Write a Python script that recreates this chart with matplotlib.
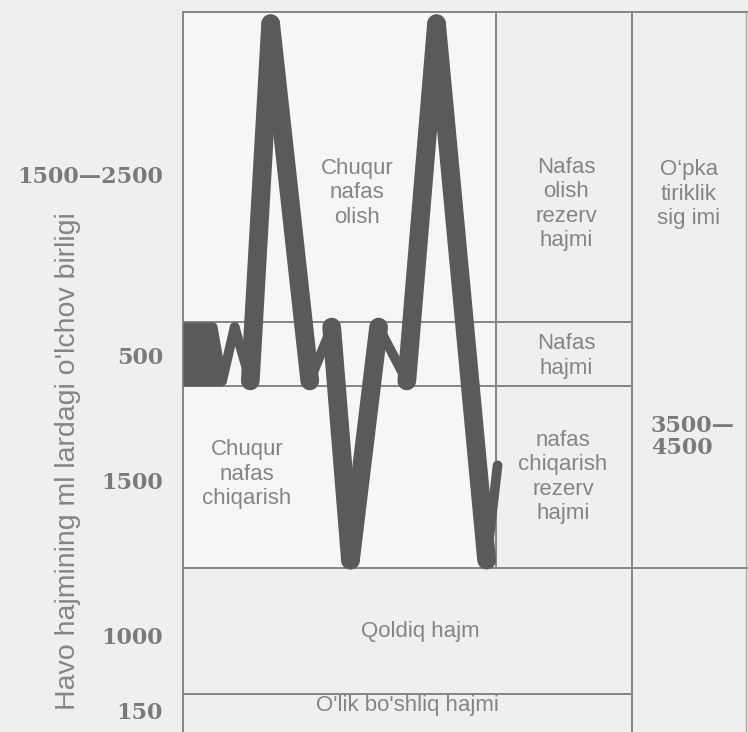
import matplotlib
matplotlib.use("Agg")
import matplotlib.pyplot as plt

# ---------------- data ----------------
# spirogram trace: time (s) and volume relative to resting end-expiratory level (ml)
block_t = [0.0, 1.9, 2.5]
block_top = [500, 500, 0]
trace_t = [1.9, 2.5, 3.3, 4.3, 5.6, 8.1, 9.5, 10.7, 12.5, 14.3, 16.2, 19.4, 20.1]
trace_v = [460, 40, 460, 40, 2830, 40, 460, -1360, 460, 40, 2830, -1360, -620]

# compartment boundaries (ml, relative to end-expiratory level)
lvl_top = 2920      # top of inspiratory reserve
lvl_vt = 500        # tidal top
lvl_frc = 0         # tidal bottom
lvl_rv = -1420      # top of residual volume
lvl_dead = -2410    # top of dead-space strip
# column boundaries (s)
col_trace_end = 20.0
col_labels_end = 28.7
col_right = 36.0

left_values = ["1500—2500", "500", "1500", "1000", "150"]
right_value = "3500—\n4500"
ylabel = "Havo hajmining ml lardagi o'lchov birligi"
labels = {
    "irv_left": "Chuqur\nnafas\nolish",
    "irv": "Nafas\nolish\nrezerv\nhajmi",
    "vc": "O‘pka\ntiriklik\nsig imi",
    "vt": "Nafas\nhajmi",
    "erv_left": "Chuqur\nnafas\nchiqarish",
    "erv": "nafas\nchiqarish\nrezerv\nhajmi",
    "rv": "Qoldiq hajm",
    "dead": "O'lik bo'shliq hajmi",
}

# ---------------- layout ----------------
W, H = 748, 732
X0, PX_PER_S = 183, 15.65
Y0, ML_PER_PX = 386, 500 / 64

fig = plt.figure(figsize=(W / 100, H / 100), dpi=100)
bg = "#efefef"
fig.patch.set_facecolor(bg)
ax = fig.add_axes([0, 0, 1, 1])
ax.set_facecolor(bg)
ax.set_xlim(-X0 / PX_PER_S, (W - X0) / PX_PER_S)
ax.set_ylim((Y0 - H) * ML_PER_PX, Y0 * ML_PER_PX)
ax.axis("off")
ybot = (Y0 - H) * ML_PER_PX

# lighter paper area around the trace
ax.fill_between([0, col_trace_end], [lvl_rv, lvl_rv], [lvl_top, lvl_top],
                color="#f6f6f6", lw=0, zorder=0)

line_c = "#858585"
lw_grid = 1.4
# horizontal boundaries
ax.plot([0, col_right + 1], [lvl_top, lvl_top], color=line_c, lw=lw_grid)
ax.plot([0, col_labels_end], [lvl_vt, lvl_vt], color=line_c, lw=lw_grid)
ax.plot([0, col_labels_end], [lvl_frc, lvl_frc], color=line_c, lw=lw_grid)
ax.plot([0, col_right + 1], [lvl_rv, lvl_rv], color=line_c, lw=lw_grid)
ax.plot([0, col_labels_end], [lvl_dead, lvl_dead], color=line_c, lw=lw_grid)
# vertical boundaries
ax.plot([0, 0], [ybot, lvl_top], color=line_c, lw=lw_grid)
ax.plot([col_trace_end, col_trace_end], [lvl_rv, lvl_top], color=line_c, lw=lw_grid)
ax.plot([col_labels_end, col_labels_end], [ybot, lvl_top], color=line_c, lw=lw_grid)
ax.plot([col_right, col_right], [ybot, lvl_top], color="#a8a8a8", lw=1.0)

# trace
trace_c = "#5a5a5a"
ax.fill_between(block_t, [0] * len(block_t), block_top, color=trace_c, lw=0, zorder=3)
for i in range(len(trace_t) - 1):
    dv = abs(trace_v[i + 1] - trace_v[i])
    lw = 13.5 if dv > 1000 else 7
    ax.plot(trace_t[i:i + 2], trace_v[i:i + 2], color=trace_c, lw=lw,
            solid_capstyle="round", zorder=3)

# text helpers (figure pixel coordinates)
def P(x, y):
    return x / W, 1 - y / H

sans = "Liberation Sans"
txt_c = "#858585"
num_c = "#7a7a7a"
fs = 16

def lab(x, y, s, **kw):
    fig.text(*P(x, y), s, ha="center", va="center", family=sans, fontsize=fs,
             color=txt_c, linespacing=1.2, **kw)

lab(357, 193, labels["irv_left"])
lab(566, 204, labels["irv"])
lab(689, 194, labels["vc"])
lab(566, 356, labels["vt"])
lab(247, 474, labels["erv_left"])
lab(563, 477, labels["erv"])
lab(420, 631, labels["rv"])
lab(407, 706, labels["dead"])

num_y = [177, 358, 483, 638, 713]
for s, y in zip(left_values, num_y):
    fig.text(*P(163, y), s, ha="right", va="center", family="DejaVu Serif",
             fontweight="bold", fontsize=16, color=num_c)
fig.text(*P(651, 437), right_value, ha="left", va="center", family="DejaVu Serif",
         fontweight="bold", fontsize=16, color=num_c, linespacing=0.95)

fig.text(*P(68, 461), ylabel, rotation=90, ha="center", va="center",
         family=sans, fontsize=20.5, color=txt_c)

fig.savefig("out.png", dpi=100, facecolor=bg)
